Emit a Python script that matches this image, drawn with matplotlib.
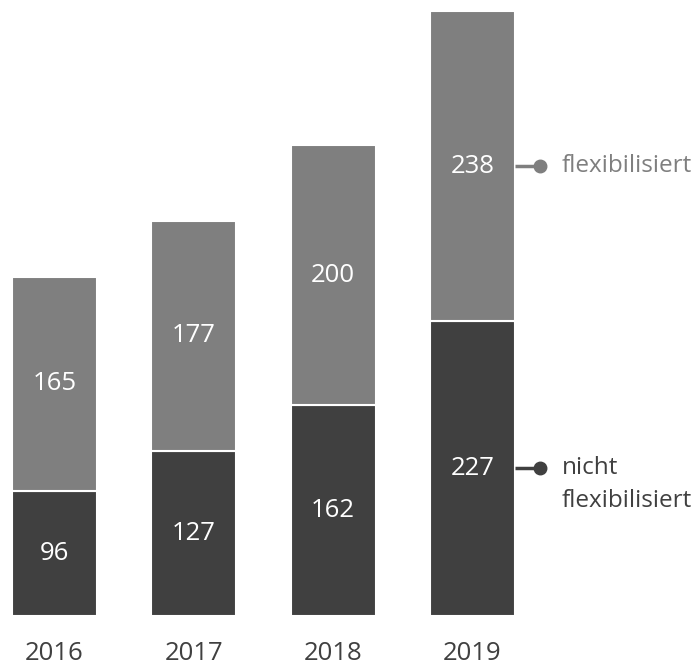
import matplotlib.pyplot as plt

plt.rcParams['font.family'] = ['Open Sans', 'DejaVu Sans']

years = ["2016", "2017", "2018", "2019"]
nicht_flex = [96, 127, 162, 227]
flex = [165, 177, 200, 238]

dark = "#404040"
light = "#7f7f7f"

fig = plt.figure(figsize=(6.96, 6.66), dpi=100)
ax = fig.add_axes([0, 50 / 666, 1, 611 / 666])

x = range(len(years))
b1 = ax.bar(x, nicht_flex, width=0.61, color=dark, edgecolor="white", linewidth=1.5)
b2 = ax.bar(x, flex, width=0.61, bottom=nicht_flex, color=light,
            edgecolor="white", linewidth=1.5)

for i in x:
    ax.text(i, nicht_flex[i] / 2, str(nicht_flex[i]), ha="center", va="center",
            color="white", fontsize=18.5)
    ax.text(i, nicht_flex[i] + flex[i] / 2, str(flex[i]), ha="center", va="center",
            color="white", fontsize=18.5)
    ax.text(i, -29, years[i], ha="center", va="center", color=dark, fontsize=18.5,
            clip_on=False)

# callouts on the last bar
last = len(years) - 1
y_top = nicht_flex[last] + flex[last] / 2
y_bot = nicht_flex[last] / 2
for yy, c in [(y_top, light), (y_bot, dark)]:
    ax.plot([last + 0.305, last + 0.485], [yy, yy], color=c, lw=2.5, solid_capstyle="butt")
    ax.plot(last + 0.485, yy, "o", color=c, markersize=9)
ax.text(last + 0.64, y_top, "flexibilisiert", color=light, fontsize=17.5, va="center")
ax.text(last + 0.64, y_bot, "nicht", color=dark, fontsize=17.5, va="center")
ax.text(last + 0.64, y_bot - 25, "flexibilisiert", color=dark, fontsize=17.5, va="center")

ax.set_xlim(-54.5 / 139.3, (696 - 54.5) / 139.3)
ax.set_ylim(0, 470)
ax.axis("off")

fig.savefig("out.png", dpi=100)
